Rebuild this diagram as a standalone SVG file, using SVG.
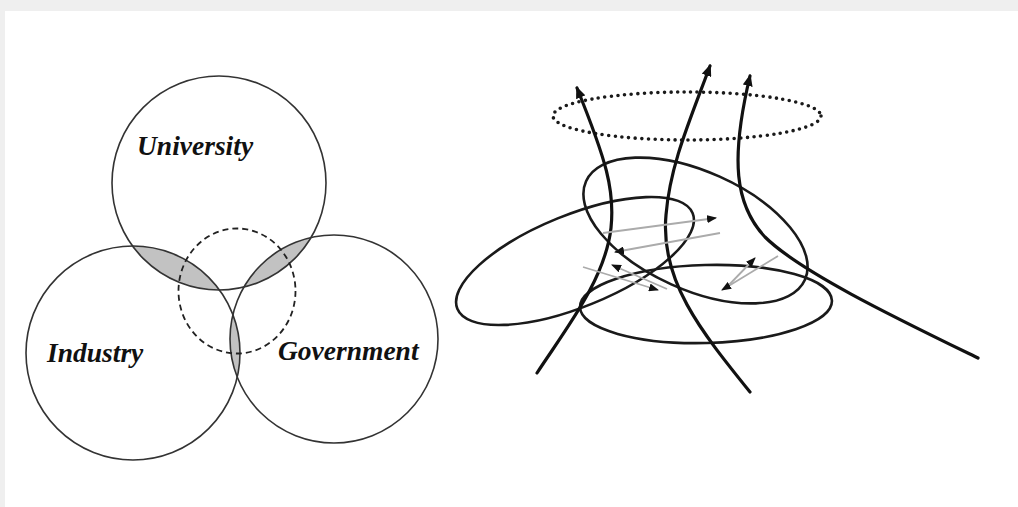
<svg xmlns="http://www.w3.org/2000/svg" width="1018" height="507" viewBox="0 0 1018 507">
<style>
.c{fill:none;stroke:#333;stroke-width:1.6}
.lens{fill:#c2c2c2;stroke:none}
.lbl{font-family:"Liberation Serif","Times New Roman",serif;font-weight:bold;font-style:italic;font-size:27.5px;fill:#111}
.dash{fill:none;stroke:#222;stroke-width:1.8;stroke-dasharray:6 4}
.el{fill:none;stroke:#1a1a1a;stroke-width:2.6}
.cv{fill:none;stroke:#111;stroke-width:3.2;stroke-linecap:round}
.dot{fill:none;stroke:#1a1a1a;stroke-width:3.6;stroke-linecap:round;stroke-dasharray:0 6.6}
.ga{fill:none;stroke:#ababab;stroke-width:1.8}
</style>
<defs>
<marker id="big" viewBox="0 0 12 10" refX="10" refY="5" markerWidth="12" markerHeight="10" markerUnits="userSpaceOnUse" orient="auto">
<path d="M0,0 L12,5 L0,10 Z" fill="#111"/>
</marker>
<marker id="sm" viewBox="0 0 10 8" refX="9" refY="4" markerWidth="10" markerHeight="8" markerUnits="userSpaceOnUse" orient="auto">
<path d="M0,0 L10,4 L0,8 Z" fill="#111"/>
</marker>
<clipPath id="cU"><circle cx="219" cy="183" r="107"/></clipPath>
<clipPath id="cI"><circle cx="133" cy="353" r="107"/></clipPath>
<clipPath id="cG"><circle cx="334" cy="339" r="104"/></clipPath>
</defs>
<rect x="0" y="0" width="1018" height="507" fill="#efefef"/>
<rect x="5" y="11" width="1013" height="496" fill="#fff"/>

<g id="lenses">
<circle class="lens" cx="133" cy="353" r="107" clip-path="url(#cU)"/>
<circle class="lens" cx="334" cy="339" r="104" clip-path="url(#cU)"/>
<circle class="lens" cx="334" cy="339" r="104" clip-path="url(#cI)"/>
</g>
<g id="university"><circle class="c" cx="219" cy="183" r="107"/><text class="lbl" x="137" y="155">University</text></g>
<g id="industry"><circle class="c" cx="133" cy="353" r="107"/><text class="lbl" x="47" y="362">Industry</text></g>
<g id="government"><circle class="c" cx="334" cy="339" r="104"/><text class="lbl" x="278" y="360">Government</text></g>
<g id="overlap"><ellipse class="dash" cx="237" cy="291" rx="58.5" ry="62.5"/></g>

<g id="right-ellipses">
<ellipse id="sphere-dotted" class="dot" cx="687" cy="116" rx="134" ry="24"/>
<ellipse id="e1" class="el" cx="695.5" cy="230.5" rx="120" ry="59" transform="rotate(24.2 695.5 230.5)"/>
<ellipse id="e2" class="el" cx="575" cy="261" rx="127" ry="46" transform="rotate(-22.1 575 261)"/>
<ellipse id="e3" class="el" cx="706" cy="304" rx="126" ry="39" transform="rotate(-1.5 706 304)"/>
</g>

<g id="connectors">
<path class="cv" d="M537,373 C565,330 605,280 611,228 C615,190 606,160 577,88" marker-end="url(#big)"/>
<path class="cv" d="M750,392 C700,330 660,280 666,215 C670,165 690,120 710,66" marker-end="url(#big)"/>
<path class="cv" d="M978,358 C900,320 800,272 765,237 C735,205 730,160 750,76" marker-end="url(#big)"/>
<path class="ga" d="M603,233 L716,218" marker-end="url(#sm)"/>
<path class="ga" d="M720,233 L615,252" marker-end="url(#sm)"/>
<path class="ga" d="M583,267 L658,290" marker-end="url(#sm)"/>
<path class="ga" d="M667,289 L612,265" marker-end="url(#sm)"/>
<path class="ga" d="M727,287 L755,258" marker-end="url(#sm)"/>
<path class="ga" d="M778,256 L722,290" marker-end="url(#sm)"/>
</g>
</svg>
